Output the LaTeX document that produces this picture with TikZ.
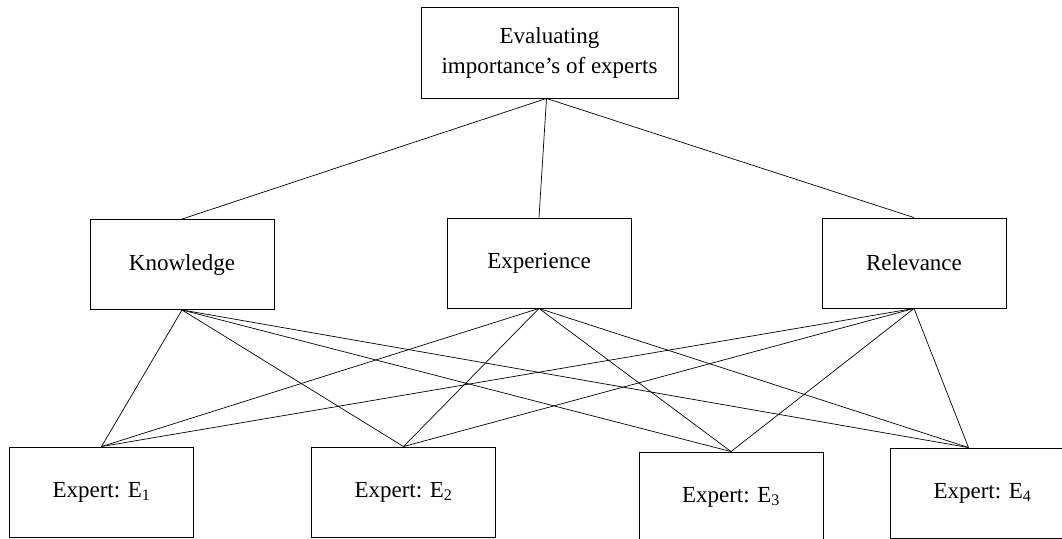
\documentclass[tikz,border=0pt]{standalone}
\usepackage{fontspec}
\setmainfont{Liberation Serif}

\begin{document}
\begin{tikzpicture}[
    x=1pt, y=-1pt,
    every node/.style={font=\fontsize{23}{30}\selectfont},
    box/.style = {draw, line width=0.9pt, minimum width=184pt, minimum height=90pt, inner sep=0pt, align=center},
    link/.style = {line width=0.7pt}
]
    \useasboundingbox (0,0) rectangle (1062,538);
    \clip (0,0) rectangle (1062,538);

    % goal
    \node[box, minimum width=257pt, minimum height=91pt] (goal) at (549.5,52.5) {Evaluating\\importance’s of experts};

    % criteria
    \node[box] (know) at (182,264.5) {Knowledge};
    \node[box] (exper) at (539,263) {Experience};
    \node[box] (relev) at (914,263) {Relevance};

    % alternatives
    \node[box] (e1) at (101.5,492) {Expert: E\textsubscript{1}};
    \node[box] (e2) at (403.5,492) {Expert: E\textsubscript{2}};
    \node[box] (e3) at (731,497) {Expert: E\textsubscript{3}};
    \node[box] (e4) at (982.5,493) {Expert: E\textsubscript{4}};

    \coordinate (e4top) at ([xshift=-14pt]e4.north);

    \draw[link] ([xshift=-3pt]goal.south) -- (know.north);
    \draw[link] ([xshift=-3pt]goal.south) -- (exper.north);
    \draw[link] ([xshift=-3pt]goal.south) -- (relev.north);

    \foreach \c in {know, exper, relev} {
        \draw[link] (\c.south) -- (e1.north);
        \draw[link] (\c.south) -- (e2.north);
        \draw[link] (\c.south) -- (e3.north);
        \draw[link] (\c.south) -- (e4top);
    }
\end{tikzpicture}
\end{document}
